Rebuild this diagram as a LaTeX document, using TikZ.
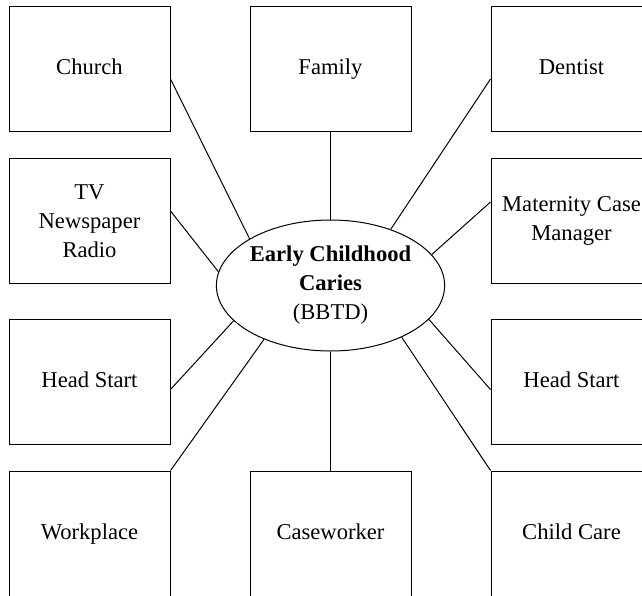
\documentclass[tikz,border=0pt]{standalone}
\usepackage{fontspec}
\setmainfont{Liberation Serif}
\usetikzlibrary{shapes.geometric}

\begin{document}
\begin{tikzpicture}[
        x = 0.5pt, y = -0.5pt,
        every node/.style = {font = \fontsize{11.3}{14.5}\selectfont, align = center},
        agency/.style = {
                draw, rectangle, inner sep = 0pt, line width = 0.5pt,
                minimum width = 80.5pt, minimum height = 62.5pt
            },
        caries/.style = {
                draw, ellipse, inner sep = 0pt, line width = 0.5pt,
                minimum width = 108.5pt, minimum height = 65.5pt
            },
        link/.style = {draw, line width = 0.5pt}
    ]

    \clip (0,0) rectangle (642,595);

    % the ten partners round the centre
    \node[agency] (church)     at (89.5, 69)    {\strut Church};
    \node[agency] (family)     at (330.5, 69)   {\strut Family};
    \node[agency] (dentist)    at (571.5, 69)   {\strut Dentist};
    \node[agency] (media)      at (89.5, 221)   {TV\\Newspaper\\Radio};
    \node[agency] (maternity)  at (571.5, 221)  {Maternity Case\\Manager};
    \node[agency] (headstartL) at (89.5, 381.5) {\strut Head Start};
    \node[agency] (headstartR) at (571.5, 381.5) {\strut Head Start};
    \node[agency] (workplace)  at (89.5, 533.5) {\strut Workplace};
    \node[agency] (caseworker) at (330.5, 533.5) {\strut Caseworker};
    \node[agency] (childcare)  at (571.5, 533.5) {\strut Child Care};

    \node[caries] (ecc) at (330.5, 285.5)
        {\textbf{Early Childhood}\\\textbf{Caries}\\(BBTD)};

    \draw[link] ([yshift=-5pt]church.east)     -- (ecc.150);
    \draw[link] (family.south)                  -- (ecc.90);
    \draw[link] ([yshift=-5pt]dentist.west)    -- (ecc.43);
    \draw[link] ([yshift=5pt]media.east)       -- (ecc.173);
    \draw[link] ([yshift=9.5pt]maternity.west) -- (ecc.17);
    \draw[link] ([yshift=-4pt]headstartL.east) -- (ecc.200);
    \draw[link] ([yshift=-4pt]headstartR.west) -- (ecc.341);
    \draw[link] (workplace.north east)         -- (ecc.219);
    \draw[link] (caseworker.north)             -- (ecc.270);
    \draw[link] (childcare.north west)         -- (ecc.324);

\end{tikzpicture}
\end{document}
